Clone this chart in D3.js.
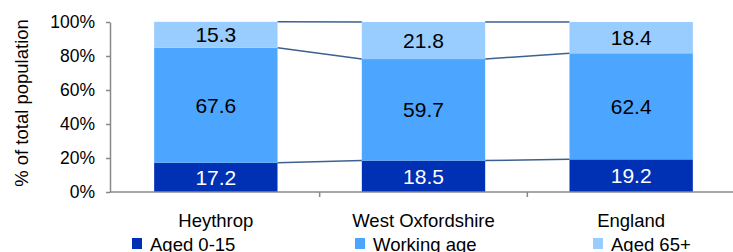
<!DOCTYPE html>
<html>
<head>
<meta charset="utf-8">
<script src="https://cdn.jsdelivr.net/npm/d3@7"></script>
<style>
  body { margin: 0; background: #fff; }
  svg text { font-family: "Liberation Sans", Arial, sans-serif; }
</style>
</head>
<body>
<script>
// categories and series
const areas = ["Heythrop", "West Oxfordshire", "England"];
const groups = ["Aged 0-15", "Working age", "Aged 65+"];
const aged015 = [17.2, 18.5, 19.2];
const workingAge = [67.6, 59.7, 62.4];
const aged65 = [15.3, 21.8, 18.4];
const yTicks = [0, 20, 40, 60, 80, 100];

const colors = ["#0030b4", "#4ca6ff", "#99ccff"];
const labelColors = ["#fff", "#000", "#000"];

let width = 733, height = 252;
let svg = d3.select("body").append("svg")
  .attr("width", width)
  .attr("height", height);

// stacked rows built from the arrays above
let rows = areas.map((a, i) => ({ area: a, "Aged 0-15": aged015[i], "Working age": workingAge[i], "Aged 65+": aged65[i] }));
let stack = d3.stack().keys(groups)(rows);

let x = d3.scaleBand().domain(areas).range([112, 735]).paddingInner(0.406).paddingOuter(0.203);
let y = d3.scaleLinear().domain([0, 100]).range([192, 22]);

// connector lines between bars (top of each segment)
stack.forEach(layer => {
  for (let i = 0; i < areas.length - 1; i++) {
    svg.append("line")
      .attr("x1", x(areas[i]) + x.bandwidth())
      .attr("x2", x(areas[i + 1]))
      .attr("y1", y(layer[i][1]))
      .attr("y2", y(layer[i + 1][1]))
      .attr("stroke", "#3c6090")
      .attr("stroke-width", 1.5);
  }
});

// bars
stack.forEach((layer, k) => {
  svg.append("g").selectAll("rect")
    .data(layer)
    .enter().append("rect")
    .attr("x", d => x(d.data.area))
    .attr("width", x.bandwidth())
    .attr("y", d => y(d[1]))
    .attr("height", d => y(d[0]) - y(d[1]))
    .attr("fill", colors[k]);

  svg.append("g").selectAll("text")
    .data(layer)
    .enter().append("text")
    .attr("x", d => x(d.data.area) + x.bandwidth() / 2)
    .attr("y", d => (y(d[0]) + y(d[1])) / 2)
    .attr("dy", "0.36em")
    .attr("text-anchor", "middle")
    .attr("font-size", 21)
    .attr("fill", labelColors[k])
    .text(d => (d[1] - d[0]).toFixed(1));
});

// y axis
let yAxis = svg.append("g")
  .attr("transform", "translate(110,0)")
  .call(d3.axisLeft(y).tickValues(yTicks).tickSize(4).tickSizeOuter(0).tickFormat(d => d + "%"));
yAxis.select(".domain").attr("stroke", "#888").attr("stroke-width", 1.5);
yAxis.selectAll(".tick line").attr("stroke", "#888").attr("stroke-width", 1.5);
yAxis.selectAll(".tick text").attr("font-size", 17.5).attr("fill", "#000").attr("x", -15)
  .style("font-family", "'Liberation Sans', Arial, sans-serif");

// x axis
let xAxis = svg.append("g")
  .attr("transform", "translate(0,192)");
xAxis.append("line").attr("x1", 110).attr("x2", 735).attr("stroke", "#888").attr("stroke-width", 1.5);
[1, 2].forEach(i => {
  let xt = x.step() * i + 112;
  xAxis.append("line").attr("x1", xt).attr("x2", xt).attr("y1", 0).attr("y2", 5)
    .attr("stroke", "#888").attr("stroke-width", 1.5);
});
xAxis.selectAll("text.cat")
  .data(areas)
  .enter().append("text")
  .attr("class", "cat")
  .attr("x", d => x(d) + x.bandwidth() / 2)
  .attr("y", 34.5)
  .attr("text-anchor", "middle")
  .attr("font-size", 18.5)
  .text(d => d);

// y axis title
svg.append("text")
  .attr("transform", "translate(28,103) rotate(-90)")
  .attr("text-anchor", "middle")
  .attr("font-size", 18.5)
  .text("% of total population");

// legend
let legendX = [132, 355, 593];
groups.forEach((g, k) => {
  svg.append("rect").attr("x", legendX[k]).attr("y", 238).attr("width", 10).attr("height", 11).attr("fill", colors[k]);
  svg.append("text").attr("x", legendX[k] + 18).attr("y", 250.5).attr("font-size", 18.5).text(g);
});
</script>
</body>
</html>
